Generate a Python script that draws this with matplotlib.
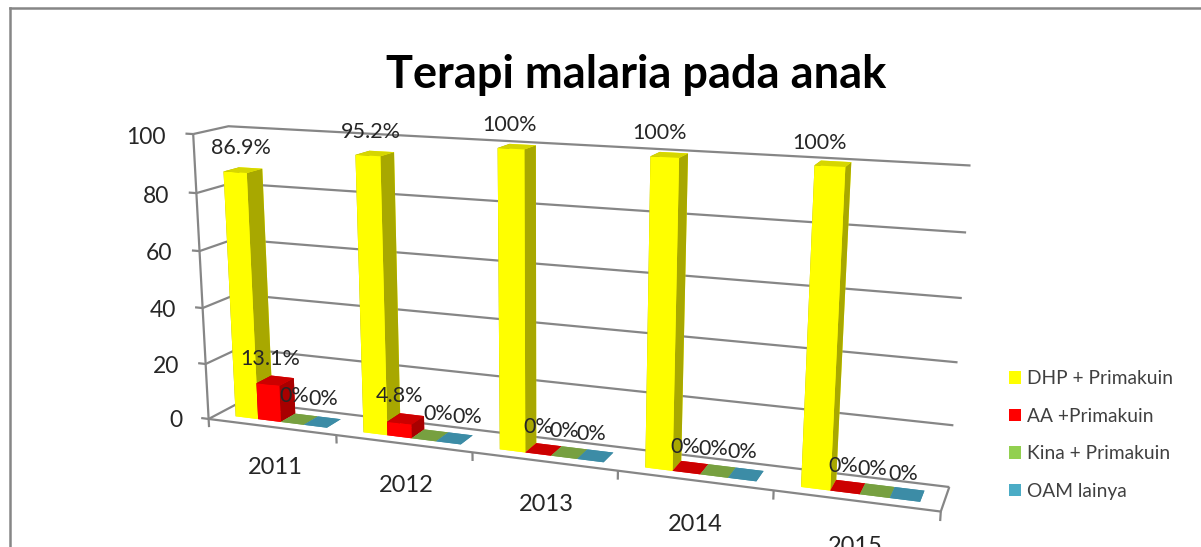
import matplotlib
matplotlib.use("Agg")
import matplotlib.pyplot as plt
from matplotlib.lines import Line2D
from matplotlib.patches import Patch
from matplotlib.transforms import offset_copy
from mpl_toolkits.mplot3d import proj3d

plt.rcParams["font.family"] = ["Lato", "DejaVu Sans"]

years = ["2011", "2012", "2013", "2014", "2015"]
series = ["DHP + Primakuin", "AA +Primakuin", "Kina + Primakuin", "OAM lainya"]
dhp = [86.9, 95.2, 100, 100, 100]
aa = [13.1, 4.8, 0, 0, 0]
kina = [0, 0, 0, 0, 0]
oam = [0, 0, 0, 0, 0]
yticks = [0, 20, 40, 60, 80, 100]

# warna: legenda, depan, atas, samping
legend_colors = ["#FFFF00", "#FF0000", "#92D050", "#4BACC6"]
front_colors = ["#FFFF00", "#FF0000", "#77A040", "#3C8CA6"]
top_colors = ["#D6D600", "#CC0000", "#77A040", "#3C8CA6"]
side_colors = ["#A8A800", "#A80000", "#5A7A30", "#2D6A7E"]

# posisi teks label data dalam piksel gambar
label_px = [
    [(241, 148), (270, 359), (294, 396), (323, 399)],
    [(371, 132), (400, 396), (438, 414), (467, 417)],
    [(510, 125), (538, 427), (564, 431), (591, 434)],
    [(660, 133), (685, 447), (713, 449), (742, 452)],
    [(820, 143), (843, 466), (872, 469), (903, 474)],
]

W, H = 1201, 547
GRID = "#868686"

fig = plt.figure(figsize=(W / 100, H / 100), dpi=100)
ax = fig.add_axes([135.99 / W, (H - 723.39) / H, 817.87 / W, 817.86 / H], projection="3d")
ax.set_xlim(0, 5)
ax.set_ylim(0, 1)
ax.set_zlim(0, 100)
ax.view_init(13.809, -69.786, -0.104)
ax.set_proj_type("persp", focal_length=0.3513)
ax.set_box_aspect((1, 0.0873, 0.3986))
ax.set_axis_off()
ax.computed_zorder = False
ax.patch.set_alpha(0)
M = ax.get_proj()


def garis(xs, ys, zs):
    ax.plot(xs, ys, zs, color=GRID, lw=1.6, zorder=1, solid_capstyle="butt", clip_on=False)


def teks(x, y, z, s, dx=0, dy=0, **kw):
    # titik 3D diproyeksikan dulu, lalu ditulis sebagai teks 2D biasa
    u, v, _ = proj3d.proj_transform(x, y, z, M)
    tr = offset_copy(ax.transData, fig=fig, x=dx, y=dy, units="dots")
    ax.text2D(u, v, s, transform=tr, color="#262626", zorder=50, clip_on=False, **kw)


# dinding dan lantai
for z in yticks:
    garis([0, 0, 5], [0, 1, 1], [z, z, z])
    garis([-0.06, 0], [0, 0], [z, z])
    teks(-0.2, 0, z, str(z), dx=-2, dy=-5, ha="right", va="center", fontsize=16.5)
garis([0, 0], [0, 0], [0, 100])
garis([0, 5, 5], [0, 0, 1], [0, 0, 0])
for i in range(6):
    garis([i, i], [0, 0], [0, -3])

# batang, digambar dari kiri ke kanan
all_series = [dhp, aa, kina, oam]
order = 2
for i in range(len(years)):
    for s, vals in enumerate(all_series):
        faces = [front_colors[s], top_colors[s], front_colors[s],
                 front_colors[s], side_colors[s], side_colors[s]]
        ax.bar3d(i + 0.145 + s * 0.18, 0.27, 0, 0.18, 0.46, vals[i],
                 color=faces, shade=False, zorder=order)
        order += 1

for i, year in enumerate(years):
    teks(i + 0.5, 0, -14, year, dx=2, dy=-2, ha="center", va="center", fontsize=17)

for i in range(len(years)):
    for s, vals in enumerate(all_series):
        px, py = label_px[i][s]
        fig.text(px / W, 1 - py / H, f"{vals[i]:g}%", ha="center", va="center",
                 fontsize=15.5, color="#262626", zorder=60)

fig.text(636 / W, 1 - 75 / H, "Terapi malaria pada anak", ha="center", va="center",
         fontsize=32.5, fontweight="bold", color="black")

# bingkai area grafik
fig.add_artist(Line2D([10 / W, 10 / W], [0, 1 - 8 / H], color=GRID, lw=1.8))
fig.add_artist(Line2D([10 / W, 1], [1 - 8 / H, 1 - 8 / H], color=GRID, lw=1.8))

handles = [Patch(facecolor=c, edgecolor="none") for c in legend_colors]
fig.legend(handles, series, loc="center left", bbox_to_anchor=(992 / W, 1 - 435 / H), frameon=False,
           fontsize=13.8, handlelength=0.625, handleheight=0.625, handletextpad=0.3,
           labelspacing=1.07, labelcolor="#404040")

fig.savefig("out.png", dpi=100)
